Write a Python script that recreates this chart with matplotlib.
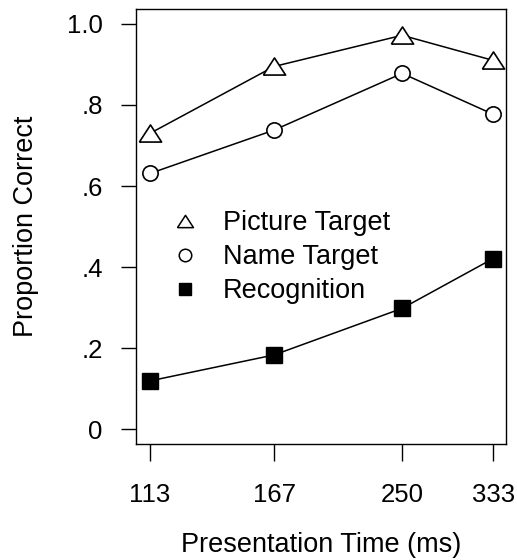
import matplotlib
matplotlib.use("Agg")
import matplotlib.pyplot as plt
from matplotlib.lines import Line2D
from matplotlib.ticker import FixedLocator, NullLocator

plt.rcParams['font.family'] = ['Liberation Sans', 'DejaVu Sans']

times = [113, 167, 250, 333]
picture_target = [0.730, 0.895, 0.972, 0.910]
name_target = [0.631, 0.738, 0.878, 0.777]
recognition = [0.119, 0.183, 0.298, 0.421]
yticks = [0, 0.2, 0.4, 0.6, 0.8, 1.0]
ytick_labels = ['0', '.2', '.4', '.6', '.8', '1.0']
labels = ['Picture Target', 'Name Target', 'Recognition']

FS = 19.5

fig = plt.figure(figsize=(5.17, 5.6), dpi=100)
ax = fig.add_axes([0.263, 0.207, 0.716, 0.777])

tri = [(-1, -0.77), (1, -0.77), (0, 0.77), (-1, -0.77)]

ax.plot(times, picture_target, color='black', lw=1.1, marker=tri, ms=16,
        mfc='white', mec='black', mew=1.2, zorder=3)
ax.plot(times, name_target, color='black', lw=1.1, marker='o', ms=11,
        mfc='white', mec='black', mew=1.2, zorder=3)
ax.plot(times, recognition, color='black', lw=1.1, marker='s', ms=11,
        mfc='black', mec='black', mew=1.0, zorder=3)

ax.set_xscale('log')
ax.set_xlim(108.1, 346.9)
ax.set_ylim(-0.037, 1.037)
ax.xaxis.set_major_locator(FixedLocator(times))
ax.xaxis.set_minor_locator(NullLocator())
ax.set_xticks(times)
ax.set_xticklabels([str(t) for t in times])
ax.set_yticks(yticks)
ax.set_yticklabels(ytick_labels)

ax.tick_params(axis='y', direction='out', length=11, width=1.0, pad=13, labelsize=FS - 1)
ax.tick_params(axis='x', direction='out', length=12, width=1.0, pad=16, labelsize=FS - 1)
for s in ax.spines.values():
    s.set_linewidth(1.0)

ax.set_xlabel('Presentation Time (ms)', fontsize=FS, labelpad=18)
ax.set_ylabel('Proportion Correct', fontsize=FS, labelpad=20)

handles = [
    Line2D([], [], ls='none', marker=tri, ms=11.5, mfc='white', mec='black', mew=1.1),
    Line2D([], [], ls='none', marker='o', ms=9.0, mfc='white', mec='black', mew=1.1),
    Line2D([], [], ls='none', marker='s', ms=9.0, mfc='black', mec='black'),
]
ax.legend(handles, labels, loc='upper left', bbox_to_anchor=(0.096, 0.537),
          frameon=False, fontsize=FS, handlelength=1.0, handletextpad=0.9,
          labelspacing=0.29, borderaxespad=0, borderpad=0)

fig.savefig('out.png', dpi=100)
